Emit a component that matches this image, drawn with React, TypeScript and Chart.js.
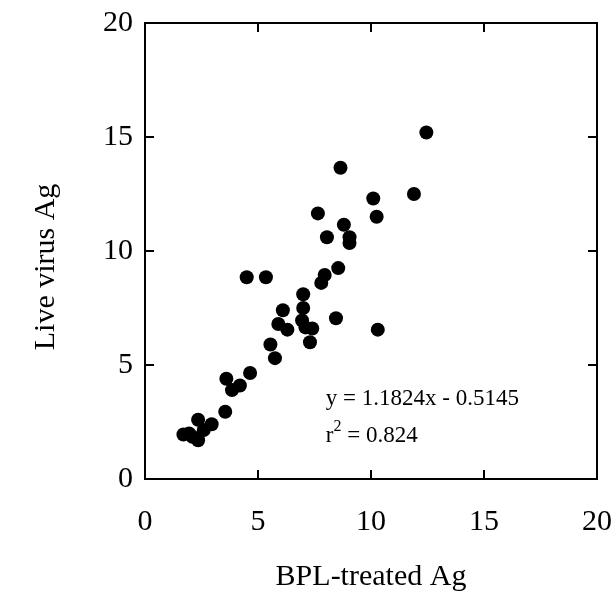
import React, { useEffect, useRef } from "react";
import { Chart, registerables } from "chart.js";

Chart.register(...registerables);

// BPL-treated antigen (x) and live virus antigen (y)
const bplTreated = [
  12.45, 8.65, 11.9, 10.1, 10.25, 7.65, 8.8, 9.05, 9.05, 8.05,
  8.55, 7.95, 7.8, 4.5, 5.35, 7.0, 7.0, 6.1, 8.45, 10.3,
  5.9, 6.3, 7.1, 7.4, 6.95, 7.3, 5.55, 5.75, 3.6, 4.65,
  4.2, 3.85, 3.55, 2.35, 2.95, 2.6, 1.7, 2.1, 2.35, 1.95,
];
const liveVirus = [
  15.2, 13.65, 12.5, 12.3, 11.5, 11.65, 11.15, 10.6, 10.35, 10.6,
  9.25, 8.95, 8.6, 8.85, 8.85, 8.1, 7.5, 7.4, 7.05, 6.55,
  6.8, 6.55, 6.65, 6.6, 6.95, 6.0, 5.9, 5.3, 4.4, 4.65,
  4.1, 3.9, 2.95, 2.6, 2.4, 2.15, 1.95, 1.85, 1.7, 2.0,
];

const axisMin = 0;
const axisMax = 20;
const tickStep = 5;
const innerTicks = [5, 10, 15];

const xTitle = "BPL-treated Ag";
const yTitle = "Live virus Ag";
const equationText = "y = 1.1824x - 0.5145";
const r2Value = "= 0.824";
const annotationAnchor = { x: 8.0, y: 3.25 };
const yTitleCenterValue = 9.3;

const FONT = '"Liberation Serif", "Times New Roman", serif';

const framePlugin = {
  id: "frameAndNotes",
  afterDraw(chart: any) {
    const { ctx, chartArea } = chart;
    const { left, right, top, bottom } = chartArea;
    const xs = chart.scales.x;
    const ys = chart.scales.y;
    ctx.save();
    ctx.strokeStyle = "#000";
    ctx.lineWidth = 2;
    ctx.strokeRect(left, top, right - left, bottom - top);
    const tl = 9;
    ctx.beginPath();
    for (const v of innerTicks) {
      const px = Math.round(xs.getPixelForValue(v));
      ctx.moveTo(px, bottom);
      ctx.lineTo(px, bottom - tl);
      ctx.moveTo(px, top);
      ctx.lineTo(px, top + tl);
      const py = Math.round(ys.getPixelForValue(v));
      ctx.moveTo(left, py);
      ctx.lineTo(left + tl, py);
      ctx.moveTo(right, py);
      ctx.lineTo(right - tl, py);
    }
    ctx.stroke();

    // y-axis title (rotated)
    ctx.fillStyle = "#000";
    ctx.save();
    ctx.translate(46, ys.getPixelForValue(yTitleCenterValue));
    ctx.rotate(-Math.PI / 2);
    ctx.font = `30px ${FONT}`;
    ctx.textAlign = "center";
    ctx.textBaseline = "middle";
    ctx.fillText(yTitle, 0, 0);
    ctx.restore();

    // regression annotation
    ctx.textBaseline = "alphabetic";
    ctx.textAlign = "left";
    const ax = xs.getPixelForValue(annotationAnchor.x);
    const ay = ys.getPixelForValue(annotationAnchor.y);
    ctx.font = `23px ${FONT}`;
    ctx.fillText(equationText, ax, ay);
    const ay2 = ay + 37;
    ctx.fillText("r", ax, ay2);
    const rw = ctx.measureText("r").width;
    ctx.font = `16px ${FONT}`;
    ctx.fillText("2", ax + rw, ay2 - 11);
    const sw = ctx.measureText("2").width;
    ctx.font = `23px ${FONT}`;
    ctx.fillText(" " + r2Value, ax + rw + sw, ay2);
    ctx.restore();
  },
};

function zeroPadding(scale: any) {
  scale.paddingTop = 0;
  scale.paddingBottom = 0;
  scale.paddingLeft = 0;
  scale.paddingRight = 0;
}

export default function App() {
  const canvasRef = useRef<HTMLCanvasElement | null>(null);

  useEffect(() => {
    const canvas = canvasRef.current;
    if (!canvas) return;
    const points = bplTreated.map((x, i) => ({ x, y: liveVirus[i] }));
    const chart = new Chart(canvas, {
      type: "scatter",
      data: {
        datasets: [
          {
            data: points,
            backgroundColor: "#000",
            borderColor: "#000",
            borderWidth: 0,
            pointRadius: 7,
            pointHoverRadius: 7,
          },
        ],
      },
      options: {
        animation: false,
        responsive: false,
        maintainAspectRatio: false,
        events: [],
        layout: { padding: { left: 0, top: 23, right: 15, bottom: 0 } },
        plugins: {
          legend: { display: false },
          tooltip: { enabled: false },
        },
        scales: {
          x: {
            type: "linear",
            min: axisMin,
            max: axisMax,
            grid: { display: false, drawTicks: false },
            border: { display: false },
            ticks: {
              stepSize: tickStep,
              padding: 25,
              color: "#000",
              font: { family: FONT, size: 30 },
              maxRotation: 0,
            },
            title: {
              display: true,
              text: xTitle,
              color: "#000",
              font: { family: FONT, size: 30 },
              padding: { top: 0, bottom: 0 },
            },
            afterFit(scale: any) {
              scale.height = 116;
              zeroPadding(scale);
            },
          },
          y: {
            type: "linear",
            min: axisMin,
            max: axisMax,
            grid: { display: false, drawTicks: false },
            border: { display: false },
            ticks: {
              stepSize: tickStep,
              padding: 12,
              color: "#000",
              font: { family: FONT, size: 30 },
            },
            title: { display: false },
            afterFit(scale: any) {
              scale.width = 145;
              zeroPadding(scale);
            },
          },
        },
      },
      plugins: [framePlugin],
    });
    return () => chart.destroy();
  }, []);

  return (
    <div
      style={{
        position: "fixed",
        left: 0,
        top: 0,
        width: 612,
        height: 595,
        background: "#fff",
      }}
    >
      <canvas ref={canvasRef} width={612} height={595} style={{ display: "block" }} />
    </div>
  );
}
